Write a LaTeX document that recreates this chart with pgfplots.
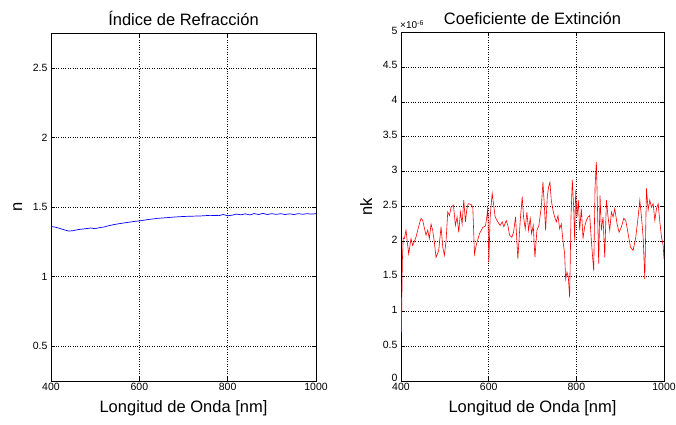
\documentclass[border=0pt]{standalone}
\usepackage{fontspec}
\setmainfont{Liberation Sans}
\usepackage{pgfplots}
\pgfplotsset{compat=1.18}

\pgfplotsset{
  mlab/.style={
    scale only axis,
    xmin=400, xmax=1000,
    xtick={400,600,800,1000},
    xticklabels={400,600,800,1000},
    grid=major,
    major grid style={black, dotted, line width=0.6pt},
    tick align=inside,
    major tick length=4pt,
    tick style={black, line width=0.6pt},
    axis line style={line width=0.8pt},
    ticklabel style={font=\fontsize{10.5}{12}\selectfont},
    /pgf/number format/assume math mode=true,
    label style={font=\fontsize{16.5}{18}\selectfont},
    title style={font=\fontsize{16.5}{18}\selectfont, yshift=-2pt},
    xlabel={Longitud de Onda [nm]},
    xlabel style={yshift=-3pt},
    ylabel shift=4pt,
    every x tick label/.append style={yshift=1pt},
  }
}

\begin{document}
\begin{tikzpicture}[x=1pt,y=1pt]
\useasboundingbox (0,0) rectangle (676,424);

\begin{axis}[mlab,
  at={(51pt,43pt)}, anchor=south west,
  width=265pt, height=348pt,
  ymin=0.25, ymax=2.75,
  ytick={0.5,1,1.5,2,2.5},
  yticklabels={0.5,1,1.5,2,2.5},
  title={Índice de Refracción},
  ylabel={n},
]
\addplot[blue, line width=0.7pt] coordinates {
(400,1.360) (410,1.355) (420,1.346) (430,1.336) (440,1.327) (450,1.330)
(460,1.337) (470,1.341) (480,1.345) (490,1.349) (500,1.344) (510,1.352)
(520,1.356) (530,1.365) (540,1.372) (550,1.378) (560,1.383) (570,1.388)
(580,1.392) (590,1.397) (600,1.400) (620,1.410) (640,1.418) (660,1.423)
(680,1.428) (700,1.432) (720,1.434) (740,1.436) (760,1.440) (780,1.438)
(790,1.446) (800,1.437) (810,1.441) (820,1.449) (830,1.444) (840,1.451)
(850,1.443) (860,1.453) (870,1.446) (880,1.454) (890,1.446) (900,1.452)
(910,1.447) (920,1.452) (930,1.446) (940,1.451) (950,1.446) (960,1.452)
(970,1.448) (980,1.452) (990,1.449) (1000,1.452)
};
\end{axis}

\begin{axis}[mlab, name=ext,
  at={(401pt,43pt)}, anchor=south west,
  width=263pt, height=349pt,
  ymin=0, ymax=5,
  ytick={0,0.5,1,1.5,2,2.5,3,3.5,4,4.5,5},
  yticklabels={\raisebox{4pt}{0},0.5,1,1.5,2,2.5,3,3.5,4,4.5,5},
  every y tick label/.append style={yshift=1.5pt},
  title={Coeficiente de Extinción},
  ylabel={nk},
]
\addplot[red, line width=0.6pt] coordinates {
(400,1.20) (401,0.70) (403,1.70) (405,2.05) (407.6,2.04) (411.4,2.16)
(417.5,1.82) (422.8,2.04) (426.6,1.94) (434.2,2.06) (441.8,2.25) (445.7,2.33)
(449.5,2.30) (457.1,2.09) (460.9,2.16) (464.7,2.04) (468.5,2.25) (472.3,2.16)
(476.1,1.99) (479.9,1.77) (486.0,1.87) (491.4,2.21) (495.2,1.92) (499.0,1.80)
(502.8,2.01) (506.6,2.42) (510.4,2.37) (514.2,2.49) (519.6,2.52) (524.1,2.23)
(527.9,2.35) (531.8,2.13) (535.6,2.42) (539.4,2.25) (543.2,2.59) (547.0,2.28)
(550.0,2.45) (553.1,2.54) (559.9,2.53) (563.8,2.49) (567.6,1.82) (571.4,1.94)
(579.0,2.11) (586.6,2.20) (592.7,2.22) (595.8,2.35) (598.1,2.49) (600.3,1.70)
(603.4,2.35) (608.0,2.69) (611.0,2.54) (614.8,2.35) (620.9,2.28) (626.2,2.23)
(630.8,2.28) (634.6,2.21) (640.0,2.30) (643.8,2.23) (647.6,2.09) (652.9,2.06)
(656.7,2.13) (661.3,2.35) (666.6,1.75) (672.0,2.30) (676.5,2.64) (679.6,2.35)
(683.4,2.18) (687.2,2.42) (691.0,2.16) (694.8,2.33) (697.9,2.11) (701.7,2.23)
(705.5,1.77) (710.1,2.16) (714.6,2.23) (720.0,2.49) (723.8,2.85) (726.8,2.54)
(729.9,2.16) (733.7,2.64) (736.7,2.78) (739.8,2.85) (742.8,2.59) (746.6,2.45)
(750.5,2.35) (754.3,2.28) (758.1,2.37) (761.9,2.18) (765.7,2.25) (769.5,2.01)
(773.3,1.82) (775.6,1.46) (778.6,1.56) (781.7,1.49) (784.7,1.20) (787.8,2.35)
(790.8,2.88) (793.9,2.49) (796.2,2.01) (798.5,2.73) (801.5,2.35) (804.6,2.59)
(807.6,2.16) (811.4,2.47) (815.2,2.04) (819.0,2.21) (822.8,2.30) (826.7,2.35)
(830.5,2.37) (834.3,2.01) (836.6,1.82) (839.6,1.58) (842.7,2.78) (845.7,3.14)
(848.7,2.35) (851.0,1.68) (854.1,2.66) (857.1,2.16) (861.0,2.35) (864.8,1.77)
(868.6,2.59) (872.4,2.35) (876.2,2.16) (880.0,2.42) (883.8,2.35) (887.6,2.47)
(893.0,2.25) (897.5,2.13) (902.9,2.21) (908.2,2.33) (912.8,2.30) (918.1,2.11)
(923.4,1.92) (929.5,1.87) (935.6,2.06) (940.9,2.35) (944.8,2.59) (948.6,2.35)
(952.4,2.06) (956.2,1.46) (960.0,2.76) (963.8,2.45) (967.6,2.59) (971.4,2.49)
(975.2,2.54) (979.1,2.30) (982.9,2.47) (986.7,2.54) (990.5,2.28) (994.3,2.06)
(998.1,1.94) (1000,1.75)
};
\end{axis}
\node[anchor=south west, font=\fontsize{10}{11}\selectfont, inner sep=0pt]
  at ([xshift=-1pt,yshift=3pt]ext.north west) {×10\textsuperscript{-6}};
\end{tikzpicture}
\end{document}
